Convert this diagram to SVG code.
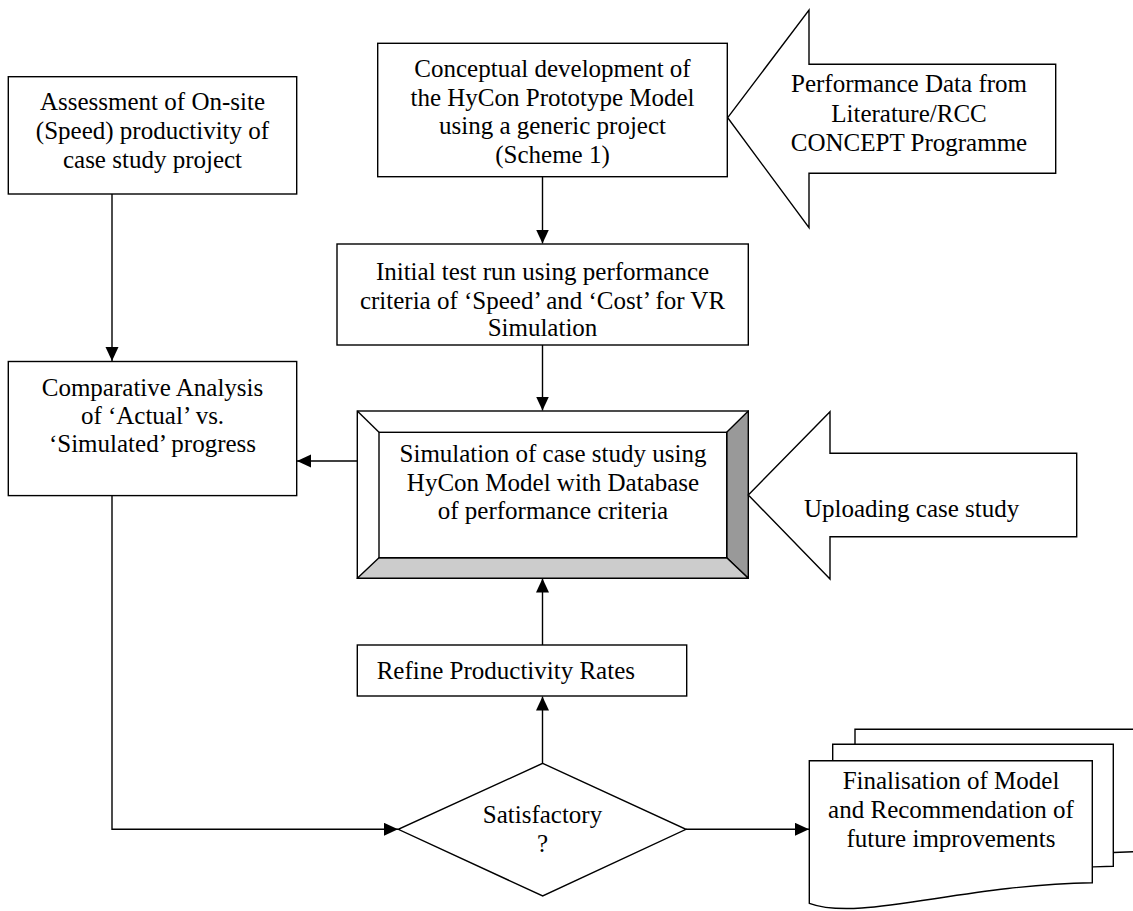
<svg xmlns="http://www.w3.org/2000/svg" width="1133" height="911" viewBox="0 0 1133 911">
<defs>
<style>
.b{fill:#fff;stroke:#000;stroke-width:1.4}
.l{fill:none;stroke:#000;stroke-width:1.4}
.t{font-family:"Liberation Serif","Times New Roman",serif;font-size:25px;fill:#000;text-anchor:middle}
.s{text-anchor:start}
</style>
<marker id="ah" markerUnits="userSpaceOnUse" markerWidth="15" markerHeight="14" refX="14" refY="6.5" orient="auto">
<path d="M0,0 L14,6.5 L0,13 z" fill="#000"/>
</marker>
</defs>
<rect width="1133" height="911" fill="#fff"/>

<g id="connectors">
<line class="l" x1="542.5" y1="177" x2="542.5" y2="243.5" marker-end="url(#ah)"/>
<line class="l" x1="542.5" y1="345" x2="542.5" y2="410.5" marker-end="url(#ah)"/>
<line class="l" x1="112" y1="194" x2="112" y2="361" marker-end="url(#ah)"/>
<line class="l" x1="357" y1="461" x2="297" y2="461" marker-end="url(#ah)"/>
<line class="l" x1="542.5" y1="645" x2="542.5" y2="578.5" marker-end="url(#ah)"/>
<line class="l" x1="542.5" y1="763.5" x2="542.5" y2="696.5" marker-end="url(#ah)"/>
<polyline class="l" points="112,495.6 112,829.3 398,829.3" marker-end="url(#ah)"/>
<line class="l" x1="686" y1="829.3" x2="809" y2="829.3" marker-end="url(#ah)"/>
</g>

<g id="assessment">
<rect class="b" x="8.3" y="76.7" width="288.4" height="117.3"/>
<text class="t" x="152.5" y="110">Assessment of On-site</text>
<text class="t" x="152.5" y="139">(Speed) productivity of</text>
<text class="t" x="152.5" y="167.5">case study project</text>
</g>

<g id="conceptual">
<rect class="b" x="377.7" y="43.3" width="349.6" height="133.4"/>
<text class="t" x="552.5" y="77">Conceptual development of</text>
<text class="t" x="552.5" y="105.5">the HyCon Prototype Model</text>
<text class="t" x="552.5" y="134">using a generic project</text>
<text class="t" x="552.5" y="162.5">(Scheme 1)</text>
</g>

<g id="performance-data">
<polygon class="b" points="727.7,117.7 809,10 809,64.3 1055.7,64.3 1055.7,173.3 809,173.3 809,227.7"/>
<text class="t" x="909" y="92.3">Performance Data from</text>
<text class="t" x="909" y="121.5">Literature/RCC</text>
<text class="t" x="909" y="150.7">CONCEPT Programme</text>
</g>

<g id="initial-test">
<rect class="b" x="337" y="244" width="411.3" height="101"/>
<text class="t" x="542.5" y="280">Initial test run using performance</text>
<text class="t" x="542.5" y="308.5">criteria of ‘Speed’ and ‘Cost’ for VR</text>
<text class="t" x="542.5" y="336">Simulation</text>
</g>

<g id="comparative">
<rect class="b" x="8.3" y="361.5" width="288.4" height="134.1"/>
<text class="t" x="152.5" y="396">Comparative Analysis</text>
<text class="t" x="152.5" y="424">of ‘Actual’ vs.</text>
<text class="t" x="152.5" y="452">‘Simulated’ progress</text>
</g>

<g id="simulation">
<rect class="b" x="357.3" y="411" width="391" height="167.3"/>
<polygon points="748.3,411 748.3,578.3 726.7,557.7 726.7,432.3" fill="#999" stroke="#000" stroke-width="1.4" stroke-linejoin="round"/>
<polygon points="357.3,578.3 748.3,578.3 726.7,557.7 379,557.7" fill="#ccc" stroke="#000" stroke-width="1.4" stroke-linejoin="round"/>
<line class="l" x1="357.3" y1="411" x2="379" y2="432.3"/>
<rect class="b" x="379" y="432.3" width="347.7" height="125.4"/>
<text class="t" x="553" y="461.7">Simulation of case study using</text>
<text class="t" x="553" y="490.5">HyCon Model with Database</text>
<text class="t" x="553" y="519.3">of performance criteria</text>
</g>

<g id="uploading">
<polygon class="b" points="748.3,495 830,411.7 830,453.3 1076.7,453.3 1076.7,536.7 830,536.7 830,579"/>
<text class="t s" x="804" y="516.7">Uploading case study</text>
</g>

<g id="refine">
<rect class="b" x="357.3" y="645" width="329.4" height="51"/>
<text class="t s" x="376.7" y="679">Refine Productivity Rates</text>
</g>

<g id="satisfactory">
<polygon class="b" points="542.7,763.3 686,829.3 542.7,896 398.3,829.3"/>
<text class="t" x="542.5" y="823">Satisfactory</text>
<text class="t" x="542.5" y="852">?</text>
</g>

<g id="finalisation">
<path class="b" d="M855,729.3 H1135.6 V851.7 C1004,853.9 904,890.9 855,872.3 Z"/>
<path class="b" d="M832.7,744.3 H1113.3 V866.3 C981.4,868.6 881.4,905.6 832.7,886.9 Z"/>
<path class="b" d="M809.3,760.7 H1092.3 V882.7 C960,885 860,922 809.3,903.3 Z"/>
<text class="t" x="951" y="789.3">Finalisation of Model</text>
<text class="t" x="951" y="818.3">and Recommendation of</text>
<text class="t" x="951" y="847.3">future improvements</text>
</g>
</svg>
